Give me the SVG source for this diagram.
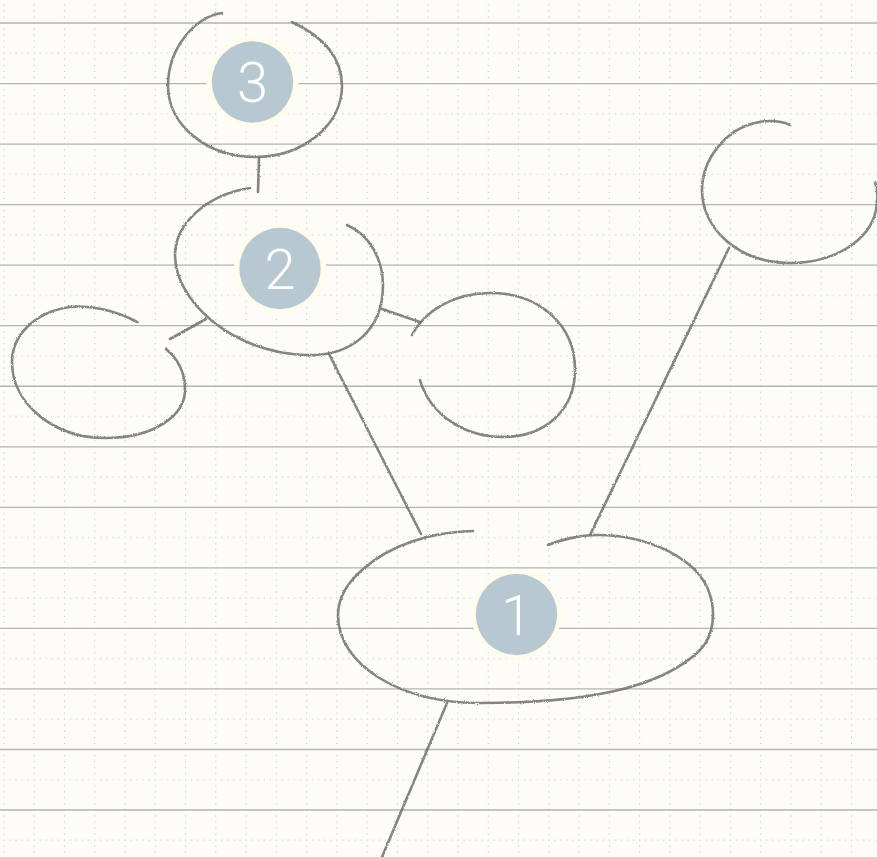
<svg xmlns="http://www.w3.org/2000/svg" width="877" height="857" viewBox="0 0 877 857">
  <defs>
    <pattern id="dots" patternUnits="userSpaceOnUse" x="3.4" y="22.4" width="30.27" height="60.54">
      <g fill="#c4c4c0">
        <rect x="0" y="0" width="1.1" height="1.1"/>
        <rect x="0" y="6.054" width="1.1" height="1.1"/>
        <rect x="0" y="12.108" width="1.1" height="1.1"/>
        <rect x="0" y="18.162" width="1.1" height="1.1"/>
        <rect x="0" y="24.216" width="1.1" height="1.1"/>
        <rect x="0" y="30.27" width="1.1" height="1.1"/>
        <rect x="0" y="36.324" width="1.1" height="1.1"/>
        <rect x="0" y="42.378" width="1.1" height="1.1"/>
        <rect x="0" y="48.432" width="1.1" height="1.1"/>
        <rect x="0" y="54.486" width="1.1" height="1.1"/>
        <rect x="6.054" y="30.27" width="1.1" height="1.1"/>
        <rect x="12.108" y="30.27" width="1.1" height="1.1"/>
        <rect x="18.162" y="30.27" width="1.1" height="1.1"/>
        <rect x="24.216" y="30.27" width="1.1" height="1.1"/>
      </g>
    </pattern>
    <filter id="pencil" filterUnits="userSpaceOnUse" x="0" y="0" width="877" height="857">
      <feTurbulence type="fractalNoise" baseFrequency="0.9" numOctaves="2" seed="4" result="n"/>
      <feDisplacementMap in="SourceGraphic" in2="n" scale="2.4" xChannelSelector="R" yChannelSelector="G"/>
    </filter>
  </defs>
  <style>
    .rule { stroke: #b4b4b4; stroke-width: 1.3; }
    .pencil { fill: none; stroke: #6f6f6f; stroke-width: 2.6; stroke-linecap: round; stroke-linejoin: round; opacity: 0.85; }
    .halo { fill: #fffcef; }
    .badge { fill: #b8c8d1; }
    .num { fill: #ffffff; font-family: Roboto, "Liberation Sans", sans-serif; font-weight: 300; font-size: 56px; text-anchor: middle; }
  </style>

  <rect width="877" height="857" fill="#fefcf6"/>
  <rect width="877" height="857" fill="url(#dots)"/>
  <g id="rules">
    <line class="rule" x1="0" y1="23" x2="877" y2="23"/>
    <line class="rule" x1="0" y1="83.54" x2="877" y2="83.54"/>
    <line class="rule" x1="0" y1="144.08" x2="877" y2="144.08"/>
    <line class="rule" x1="0" y1="204.62" x2="877" y2="204.62"/>
    <line class="rule" x1="0" y1="265.16" x2="877" y2="265.16"/>
    <line class="rule" x1="0" y1="325.7" x2="877" y2="325.7"/>
    <line class="rule" x1="0" y1="386.24" x2="877" y2="386.24"/>
    <line class="rule" x1="0" y1="446.78" x2="877" y2="446.78"/>
    <line class="rule" x1="0" y1="507.32" x2="877" y2="507.32"/>
    <line class="rule" x1="0" y1="567.86" x2="877" y2="567.86"/>
    <line class="rule" x1="0" y1="628.4" x2="877" y2="628.4"/>
    <line class="rule" x1="0" y1="688.94" x2="877" y2="688.94"/>
    <line class="rule" x1="0" y1="749.48" x2="877" y2="749.48"/>
    <line class="rule" x1="0" y1="810.02" x2="877" y2="810.02"/>
  </g>

  <g id="connectors" filter="url(#pencil)">
    <path class="pencil" d="M259,158 L258,192"/>
    <path class="pencil" d="M170,339 L206,319"/>
    <path class="pencil" d="M382,309 L420,322"/>
    <path class="pencil" d="M329,354 L421,534"/>
    <path class="pencil" d="M590,535 L729,248"/>
    <path class="pencil" d="M447,703 L382,857"/>
  </g>

  <g id="node-3">
    <path class="pencil" filter="url(#pencil)" d="M222,13 C195,17 168,48 168,86 C168,125 207,157 255,157 C303,157 342,125 342,86 C342,57 322,36 292,22"/>
    <circle class="halo" cx="252.5" cy="82" r="46"/>
    <circle class="badge" cx="252.5" cy="82" r="40.7"/>
    <text class="num" x="252.5" y="102">3</text>
  </g>

  <g id="node-2">
    <path class="pencil" filter="url(#pencil)" d="M250,188 C205,195 175,225 175,255 C175,300 230,352 305,355 C352,357 383,330 383,285 C383,260 370,235 347,225"/>
    <circle class="halo" cx="280" cy="268.5" r="46"/>
    <circle class="badge" cx="280" cy="268.5" r="40.7"/>
    <text class="num" x="280" y="289">2</text>
  </g>

  <g id="node-left">
    <path class="pencil" filter="url(#pencil)" d="M137,322 C115,310 90,305 70,307 C35,312 12,335 12,362 C12,405 55,438 105,438 C155,438 185,415 185,390 C185,372 177,358 166,349"/>
  </g>

  <g id="node-right-middle">
    <path class="pencil" filter="url(#pencil)" d="M412,335 C425,310 455,293 490,293 C540,293 575,325 575,370 C575,410 545,437 503,437 C465,437 430,415 420,380"/>
  </g>

  <g id="node-top-right">
    <path class="pencil" filter="url(#pencil)" d="M790,125 C780,120 765,120 755,123 C725,130 702,160 702,190 C702,230 740,263 790,263 C835,263 870,240 876,210 C878,200 878,190 875,182"/>
  </g>

  <g id="node-1">
    <path class="pencil" filter="url(#pencil)" d="M473,531 C430,532 390,545 362,570 C345,585 338,600 338,615 C338,665 400,703 480,703 C580,703 660,690 700,650 C715,635 715,610 710,595 C700,560 650,535 597,535 C580,535 560,540 548,545"/>
    <circle class="halo" cx="516.5" cy="614.5" r="45"/>
    <circle class="badge" cx="516.5" cy="614.5" r="40.7"/>
    <text class="num" x="516.5" y="635">1</text>
  </g>
</svg>
